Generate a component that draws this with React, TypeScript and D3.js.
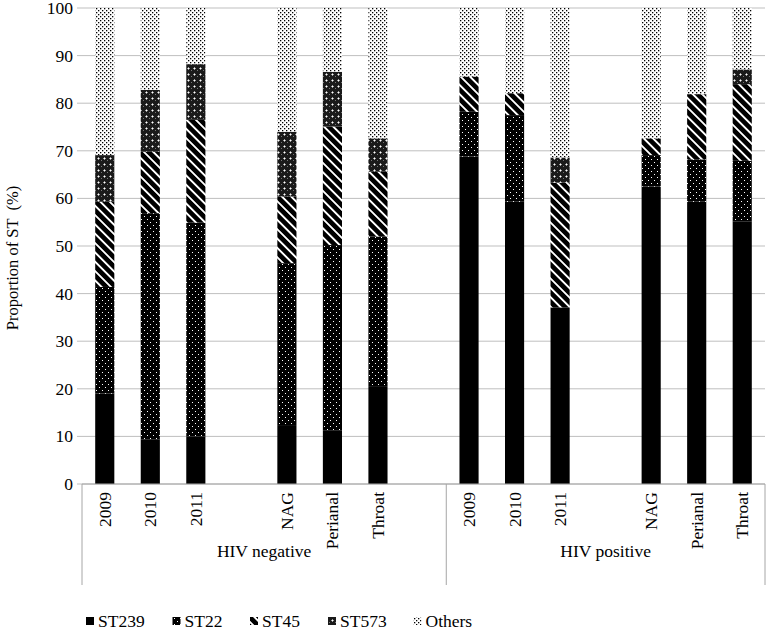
import React from "react";
import * as d3 from "d3";

const categories = ["2009", "2010", "2011", "", "NAG", "Perianal", "Throat", "", "2009", "2010", "2011", "", "NAG", "Perianal", "Throat"];
const categoryGroup = [0, 0, 0, 0, 0, 0, 0, 0, 1, 1, 1, 1, 1, 1, 1];
const groups = ["HIV negative", "HIV positive"];
const seriesNames = ["ST239", "ST22", "ST45", "ST573", "Others"];

const st239 = [19.0, 9.4, 10.0, 0, 12.2, 11.3, 20.4, 0, 68.8, 59.3, 37.1, 0, 62.5, 59.3, 55.1];
const st22 = [22.4, 47.5, 44.9, 0, 34.2, 38.9, 31.6, 0, 9.4, 18.2, 0, 0, 6.6, 8.9, 12.8];
const st45 = [17.9, 12.9, 21.6, 0, 14.0, 24.9, 13.6, 0, 7.4, 4.6, 26.2, 0, 3.5, 13.7, 16.1];
const st573 = [9.8, 13.0, 11.7, 0, 13.6, 11.5, 7.0, 0, 0, 0, 5.3, 0, 0, 0, 3.1];
const others = [30.9, 17.2, 11.8, 0, 26.0, 13.4, 27.4, 0, 14.4, 17.9, 31.4, 0, 27.4, 18.1, 12.9];
const yTicks = [0, 10, 20, 30, 40, 50, 60, 70, 80, 90, 100];

const W = 766;
const H = 631;
const X0 = 82;
const X1 = 765;
const YTOP = 8;
const YBOT = 484;
const FONT = "Liberation Serif, Tinos, Times New Roman, DejaVu Serif, serif";
const FS = 17.5;
const ts: React.CSSProperties = { fontFamily: FONT };

export default function App() {
  const keys = categories.map((_, i) => String(i));
  const x = d3.scaleBand<string>().domain(keys).range([X0, X1]).paddingInner(0.58).paddingOuter(0.29);
  const y = d3.scaleLinear().domain([0, 100]).range([YBOT, YTOP]);
  const seriesData = [st239, st22, st45, st573, others];
  const rows = keys.map((k, i) => {
    const r: any = { key: k };
    seriesNames.forEach((s, j) => (r[s] = seriesData[j][i]));
    return r;
  });
  const stacked = d3.stack<any>().keys(seriesNames)(rows);
  const fills = ["#000", "url(#p22)", "url(#p45)", "url(#p573)", "url(#pOth)"];

  const step = x.step();
  const groupBounds = [X0, X0 + step * 8, X1];
  const legendX = [86, 172.5, 250, 328, 413.5];

  return (
    <svg width={W} height={H} style={{ position: "absolute", left: 0, top: 0, background: "#fff" }}>
      <defs>
        <pattern id="p22" width={6} height={6} patternUnits="userSpaceOnUse">
          <rect width={6} height={6} fill="#000" />
          <rect x={0} y={0} width={1} height={1} fill="#fff" />
          <rect x={3} y={3} width={1} height={1} fill="#fff" />
        </pattern>
        <pattern id="p45" width={6.6} height={6.6} patternUnits="userSpaceOnUse" patternTransform="rotate(-45)">
          <rect width={6.6} height={6.6} fill="#000" />
          <rect x={0} y={0} width={1.9} height={6.6} fill="#fff" />
        </pattern>
        <pattern id="p573" width={6} height={6} patternUnits="userSpaceOnUse">
          <rect width={6} height={6} fill="#1a1a1a" />
          <rect x={2} y={1} width={1} height={3} fill="#9a9a9a" />
          <rect x={1} y={2} width={3} height={1} fill="#9a9a9a" />
          <rect x={2} y={2} width={1} height={1} fill="#fff" />
          <rect x={5} y={4} width={1} height={1} fill="#777" />
        </pattern>
        <pattern id="pOth" width={4} height={4} patternUnits="userSpaceOnUse">
          <rect width={4} height={4} fill="#fff" />
          <rect x={0} y={0} width={1.3} height={1.3} fill="#000" />
          <rect x={2} y={2} width={1.3} height={1.3} fill="#000" />
        </pattern>
      </defs>

      {yTicks.map((t) => (
        <g key={t}>
          <line x1={X0 - 5} x2={X1} y1={y(t)} y2={y(t)} stroke="#bfbfbf" strokeWidth={1} />
          <text x={73} y={y(t) + 6} textAnchor="end" fontSize={FS} fill="#000" style={ts}>
            {t}
          </text>
        </g>
      ))}

      {stacked.map((s, si) => (
        <g key={s.key} fill={fills[si]}>
          {s.map((d, i) =>
            d[1] - d[0] > 0 ? (
              <rect key={i} x={x(keys[i])!} width={x.bandwidth()} y={y(d[1])} height={y(d[0]) - y(d[1])} />
            ) : null
          )}
        </g>
      ))}

      <line x1={X0} x2={X1} y1={YBOT} y2={YBOT} stroke="#a6a6a6" strokeWidth={1} />
      {groupBounds.map((gx, i) => (
        <line key={i} x1={gx} x2={gx} y1={YBOT} y2={585} stroke="#a6a6a6" strokeWidth={1} />
      ))}

      {categories.map((c, i) =>
        c ? (
          <text
            key={i}
            transform={`translate(${x(keys[i])! + x.bandwidth() / 2 + 6},${YBOT + 8}) rotate(-90)`}
            textAnchor="end"
            fontSize={FS}
            fill="#000"
            style={ts}
          >
            {c}
          </text>
        ) : null
      )}

      {groups.map((g, gi) => {
        const left = groupBounds[gi];
        const right = groupBounds[gi + 1];
        const n = categoryGroup.filter((v) => v === gi).length;
        return (
          <text key={g} x={(left + right) / 2} y={557} textAnchor="middle" fontSize={FS} fill="#000" style={ts} data-n={n}>
            {g}
          </text>
        );
      })}

      <text
        transform={`translate(18,258) rotate(-90)`}
        textAnchor="middle"
        fontSize={16.5}
        fill="#000"
        style={{ ...ts, whiteSpace: "pre" }}
      >
        {"Proportion of ST  (%)"}
      </text>

      {seriesNames.map((s, i) => (
        <g key={s}>
          <rect x={legendX[i]} y={617} width={8} height={8} fill={fills[i]} />
          <text x={legendX[i] + 12} y={627} fontSize={FS} fill="#000" style={ts}>
            {s}
          </text>
        </g>
      ))}
    </svg>
  );
}
